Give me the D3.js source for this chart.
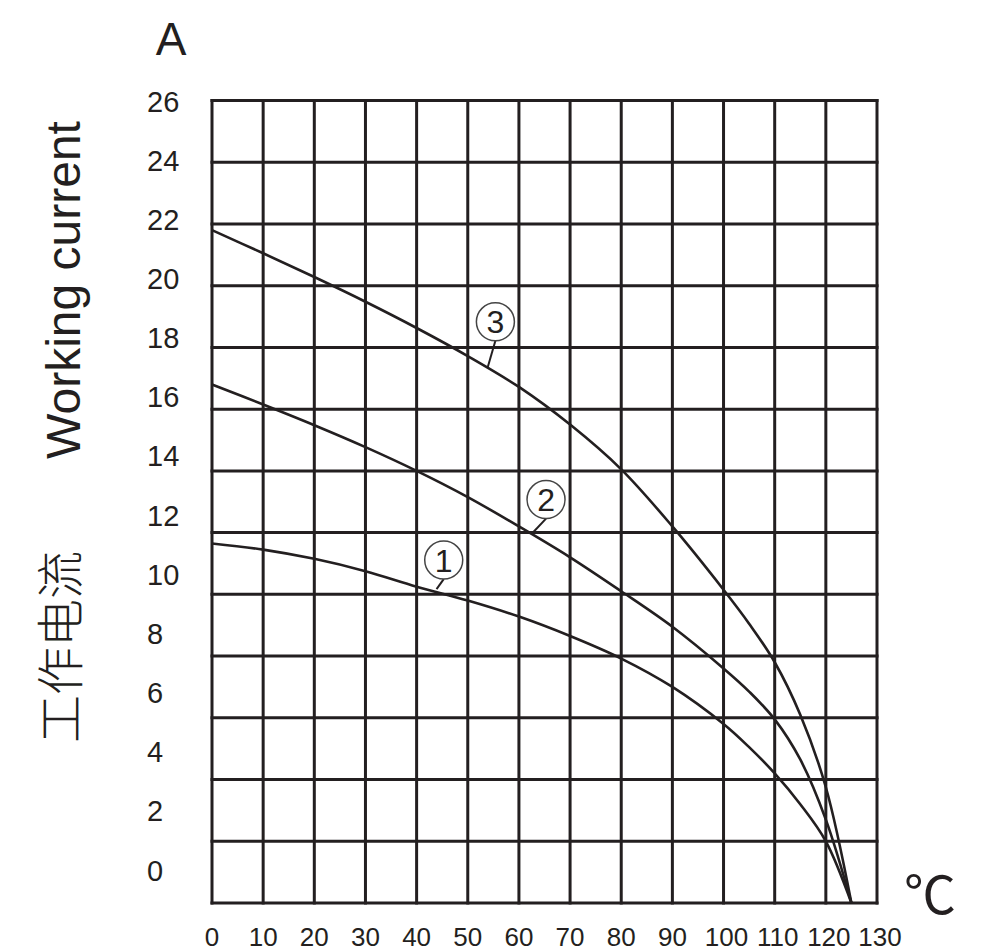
<!DOCTYPE html>
<html>
<head>
<meta charset="utf-8">
<script src="https://cdn.jsdelivr.net/npm/d3@7"></script>
<style>
  html, body { margin: 0; padding: 0; background: #fff; overflow: hidden; }
  text { font-family: "Liberation Sans", Arial, sans-serif; fill: #231f20; }
</style>
</head>
<body>
<div id="plotarea"></div>
<script>
// tick labels
var tempTicks = [0, 10, 20, 30, 40, 50, 60, 70, 80, 90, 100, 110, 120, 130];
var currentTicks = [0, 2, 4, 6, 8, 10, 12, 14, 16, 18, 20, 22, 24, 26];

// curves: [temperature C, working current A]
var curve1 = [[0, 11.65], [10, 11.45], [20, 11.15], [30, 10.75], [40, 10.25], [50, 9.8], [60, 9.28], [70, 8.65], [80, 7.92], [90, 7.0], [100, 5.8], [105, 5.05], [110, 4.2], [115, 3.2], [120, 2.0], [125, 0]];
var curve2 = [[0, 16.8], [10, 16.15], [20, 15.48], [30, 14.77], [40, 14.0], [50, 13.15], [60, 12.2], [70, 11.2], [80, 10.1], [90, 8.95], [100, 7.6], [105, 6.85], [110, 5.95], [115, 4.65], [120, 2.7], [125, 0]];
var curve3 = [[0, 21.8], [10, 21.05], [20, 20.28], [30, 19.48], [40, 18.63], [50, 17.72], [60, 16.72], [70, 15.5], [80, 14.05], [90, 12.2], [100, 10.15], [105, 9.05], [110, 7.8], [115, 6.1], [120, 3.75], [125, 0]];

// curve markers: name, circle centre, end of the leader on the curve
var markerNames = ["1", "2", "3"];
var markerCentres = [[45.3, 11.11], [65.3, 13.07], [55.4, 18.83]];
var markerTargets = [[43.9, 10.17], [62.6, 11.98], [53.9, 17.36]];

function drawChart() {
    var width = 984, height = 952;
    var ink = "#231f20";

    var svg = d3.select("#plotarea").append("svg")
        .attr("width", width)
        .attr("height", height)
        .style("display", "block");

    svg.append("rect").attr("width", width).attr("height", height).attr("fill", "#fff");

    var x = d3.scaleLinear().domain([0, 130]).range([212, 877]);
    var y = d3.scaleLinear().domain([0, 26]).range([903, 100.5]);
    // the printed labels sit a little off the grid lines in the original
    var yLabel = d3.scaleLinear().domain([0, 26]).range([870, 101]);

    // grid
    var grid = svg.append("g").attr("class", "grid")
        .attr("stroke", ink).attr("stroke-width", 3).attr("stroke-linecap", "square");
    grid.selectAll(".v").data(tempTicks).enter().append("line")
        .attr("class", "v")
        .attr("x1", function(d){ return x(d); }).attr("x2", function(d){ return x(d); })
        .attr("y1", y(26)).attr("y2", y(0));
    grid.selectAll(".h").data(currentTicks).enter().append("line")
        .attr("class", "h")
        .attr("x1", x(0)).attr("x2", x(130))
        .attr("y1", function(d){ return y(d); }).attr("y2", function(d){ return y(d); });

    // curves
    var line = d3.line()
        .x(function(d){ return x(d[0]); })
        .y(function(d){ return y(d[1]); })
        .curve(d3.curveCatmullRom.alpha(0.5));
    svg.append("g").attr("class", "curves")
        .selectAll("path")
        .data([curve1, curve2, curve3])
        .enter().append("path")
        .attr("d", line)
        .attr("fill", "none")
        .attr("stroke", ink)
        .attr("stroke-width", 2.6);

    // markers
    var markers = svg.append("g").attr("class", "markers")
        .selectAll("g").data(markerNames).enter().append("g");
    markers.append("line")
        .attr("x1", function(d, i){ return x(markerCentres[i][0]); })
        .attr("y1", function(d, i){ return y(markerCentres[i][1]) + 19; })
        .attr("x2", function(d, i){ return x(markerTargets[i][0]); })
        .attr("y2", function(d, i){ return y(markerTargets[i][1]); })
        .attr("stroke", ink).attr("stroke-width", 2);
    markers.append("circle")
        .attr("cx", function(d, i){ return x(markerCentres[i][0]); })
        .attr("cy", function(d, i){ return y(markerCentres[i][1]); })
        .attr("r", 19)
        .attr("fill", "#fff")
        .attr("stroke", "#444").attr("stroke-width", 1.5);
    markers.append("text")
        .attr("x", function(d, i){ return x(markerCentres[i][0]); })
        .attr("y", function(d, i){ return y(markerCentres[i][1]) + 11.5; })
        .attr("text-anchor", "middle")
        .attr("font-size", 32)
        .text(function(d){ return d; });

    // tick labels
    svg.append("g").attr("class", "yLabels")
        .selectAll("text").data(currentTicks).enter().append("text")
        .attr("x", 147)
        .attr("y", function(d){ return yLabel(d) + 10.5; })
        .attr("font-size", 29)
        .attr("text-anchor", "start")
        .text(function(d){ return d; });
    svg.append("g").attr("class", "xLabels")
        .selectAll("text").data(tempTicks).enter().append("text")
        .attr("x", function(d){ return x(d) + (d >= 100 ? 3 : 0); })
        .attr("y", 946)
        .attr("font-size", 26)
        .attr("text-anchor", "middle")
        .text(function(d){ return d; });

    // units
    svg.append("text")
        .attr("x", 171).attr("y", 55)
        .attr("text-anchor", "middle")
        .attr("font-size", 46)
        .text("A");
    svg.append("text")
        .attr("x", 904).attr("y", 914)
        .attr("font-size", 52)
        .style("font-family", "'Noto Sans CJK SC', sans-serif")
        .text("℃");

    // axis title
    svg.append("text")
        .attr("transform", "translate(80,290) rotate(-90)")
        .attr("text-anchor", "middle")
        .attr("font-size", 48)
        .text("Working current");
    svg.append("text")
        .attr("transform", "translate(78,647) rotate(-90)")
        .attr("text-anchor", "middle")
        .attr("font-size", 48)
        .style("font-family", "'Noto Sans CJK SC', sans-serif")
        .style("font-weight", 300)
        .text("工作电流");
}

drawChart();
</script>
</body>
</html>
